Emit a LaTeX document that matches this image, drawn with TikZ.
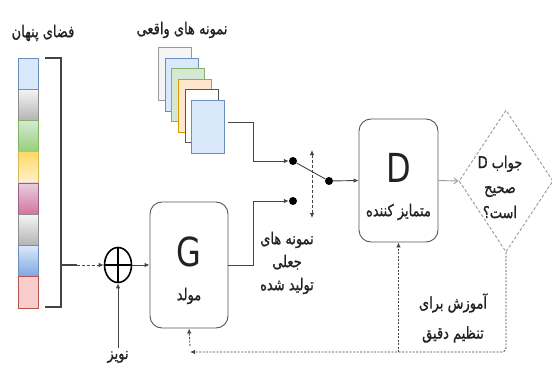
\documentclass[tikz,border=0pt]{standalone}
\usepackage{fontspec}
\usepackage{graphicx}
\setmainfont{DejaVu Sans}
\newfontfamily\arabicfont[Script=Arabic, FakeBold=1.2]{DejaVu Sans}
\TeXXeTstate=1
\usetikzlibrary{arrows.meta,shapes.geometric}
\definecolor{txt}{HTML}{222222}
\definecolor{ln}{HTML}{444444}
\definecolor{boxln}{HTML}{555555}
\definecolor{lgray}{HTML}{9A9A9A}
\definecolor{bA}{HTML}{DAE8FC}\definecolor{bS}{HTML}{6C8EBF}\definecolor{bB}{HTML}{7EA6E0}
\definecolor{gA}{HTML}{F5F5F5}\definecolor{gS}{HTML}{8C8C8C}\definecolor{gB}{HTML}{B3B3B3}
\definecolor{nA}{HTML}{D5E8D4}\definecolor{nS}{HTML}{82B366}\definecolor{nB}{HTML}{97D077}
\definecolor{yA}{HTML}{FFF2CC}\definecolor{yS}{HTML}{D6B656}\definecolor{yB}{HTML}{FFD966}
\definecolor{pA}{HTML}{E6D0DE}\definecolor{pS}{HTML}{996185}\definecolor{pB}{HTML}{D5739D}
\definecolor{rA}{HTML}{F8CECC}\definecolor{rS}{HTML}{B85450}
\definecolor{oA}{HTML}{FFE6CC}\definecolor{oS}{HTML}{D79B00}
\newcommand{\fa}[1]{\scalebox{1}[1.25]{\arabicfont\beginR #1\endR}}
\newcommand{\bigltr}[1]{\scalebox{1}[1.25]{\fontsize{32}{32}\selectfont #1}}
\begin{document}
\begin{tikzpicture}[x=1pt,y=-1pt,
  font=\fontsize{13}{15}\selectfont, text=txt,
  cell/.style={minimum width=20pt, minimum height=31.25pt, inner sep=0pt, line width=0.6pt},
  sheet/.style={minimum width=33pt, minimum height=53pt, inner sep=0pt, line width=1.1pt},
  box/.style={draw=boxln, line width=0.9pt, fill=white, rounded corners=12pt, inner sep=0pt},
  conn/.style={draw=ln, line width=0.9pt, -{Latex[length=5pt,width=4.5pt]}},
  plain/.style={draw=ln, line width=0.9pt},
  dot/.style={circle, fill=black, inner sep=0pt, minimum size=8pt},
  fb/.style={draw=ln, line width=0.9pt, dash pattern=on 2pt off 1.5pt},
  dsh/.style={draw=ln, line width=0.9pt, dash pattern=on 3pt off 2pt},
  tip/.style={-{Latex[length=5pt,width=4.5pt]}},
]
\useasboundingbox[fill=white] (0,0) rectangle (552,369);

% latent space
\node (latt) at (43,33) {\fa{فضای پنهان}};
\node[cell, draw=bS, fill=bA] (c1) at (28,73.6) {};
\node[cell, draw=gS, top color=gA, bottom color=gB] (c2) at (28,104.9) {};
\node[cell, draw=nS, top color=nA, bottom color=nB] (c3) at (28,136.1) {};
\node[cell, draw=yS, top color=yB, bottom color=yA] (c4) at (28,167.4) {};
\node[cell, draw=pS, top color=pA, bottom color=pB] (c5) at (28,198.6) {};
\node[cell, draw=gS, top color=gA, bottom color=gB] (c6) at (28,229.9) {};
\node[cell, draw=bS, top color=bA, bottom color=bB] (c7) at (28,261.1) {};
\node[cell, draw=rS, fill=rA] (c8) at (28,292.4) {};

% bracket
\draw[draw=ln, line width=1.8pt] (45,58) -- (61,58) -- (61,307) -- (45,307);
\coordinate (brk) at (61,265);
\draw[draw=ln, line width=1.8pt] (brk) -- ++(16,0) coordinate (brk2);

% plus (sum)
\node[draw=black, line width=1.6pt, ellipse, minimum width=27pt, minimum height=35pt, inner sep=0pt] (plus) at (118,265) {};
\draw[black, line width=1.6pt] (plus.north) -- (plus.south) (plus.west) -- (plus.east);
\draw[dsh, tip] (brk2) -- (plus.west);

% noise
\node (noise) at (118,357) {\fa{نویز}};
\draw[conn] (noise.north) -- (plus.south);

% generator
\node[box, minimum width=78pt, minimum height=126pt] (G) at (189,265) {};
\node (Gl) at (189,252) {\bigltr{G}};
\node (Gt) at (189,296) {\fa{مولد}};
\draw[conn] (plus.east) -- (G.west);

% real samples
\node (realt) at (182,30) {\fa{نمونه های واقعی}};
\node[sheet, draw=lgray, fill=gA] (r1) at (175,74) {};
\node[sheet, draw=bS, fill=bA] (r2) at (181.6,84.6) {};
\node[sheet, draw=nS, fill=nA] (r3) at (188.3,95.2) {};
\node[sheet, draw=oS, fill=oA] (r4) at (195,105.8) {};
\node[sheet, draw=boxln, fill=white] (r5) at (201.6,116.4) {};
\node[sheet, draw=bS, fill=bA] (r6) at (208.3,127) {};
\coordinate (st) at (228,122);

% switch
\node[dot] (s1) at (293,161) {};
\node[dot] (s2) at (293,201) {};
\node[dot] (s3) at (329,181) {};
\draw[conn] (st) -- (253,122) |- (s1.west);
\draw[conn] (G.east) -- (253,265) |- (s2.west);
\draw[plain] (s1) -- (s3);
\coordinate (da) at (312,150);
\coordinate (db) at (312,218);
\draw[dsh, {Latex[length=5pt,width=4.5pt]}-{Latex[length=5pt,width=4.5pt]}] (da) -- (db);

\node[align=center, font=\fontsize{13}{23}\selectfont] (fake) at (287,263) {\fa{نمونه های}\\\fa{جعلی}\\\fa{تولید شده}};

% discriminator
\node[box, minimum width=79pt, minimum height=123pt] (D) at (398.5,180.5) {};
\node (Dl) at (398.5,168) {\bigltr{D}};
\node (Dt) at (398.5,212) {\fa{متمایز کننده}};
\draw[conn] (s3) -- (D.west);

% decision
\node[diamond, draw=lgray, line width=0.9pt, dash pattern=on 3pt off 2pt, minimum width=94pt, minimum height=142pt, inner sep=0pt] (dec) at (506,181) {};
\node[align=center, font=\fontsize{13}{25}\selectfont] (dect) at (500,187)
  {\fa{جواب D}\\\fa{صحیح}\\\fa{است؟}};
\draw[draw=lgray, line width=0.9pt, -{Straight Barb[length=4pt,width=6pt]}] (D.east) -- (dec.west);

% feedback
\coordinate (fbr) at (506,352);
\coordinate (fbl) at (190,352);
\draw[fb, rounded corners=4pt, tip] (dec.south) -- (fbr) -- (fbl);
\draw[fb, tip] (190,346) -- (G.south);
\draw[fb, tip] (D.south |- fbr) -- (D.south);
\node[align=center, font=\fontsize{13}{30}\selectfont] (train) at (453,318) {\fa{آموزش برای}\\\fa{تنظیم دقیق}};
\end{tikzpicture}
\end{document}
